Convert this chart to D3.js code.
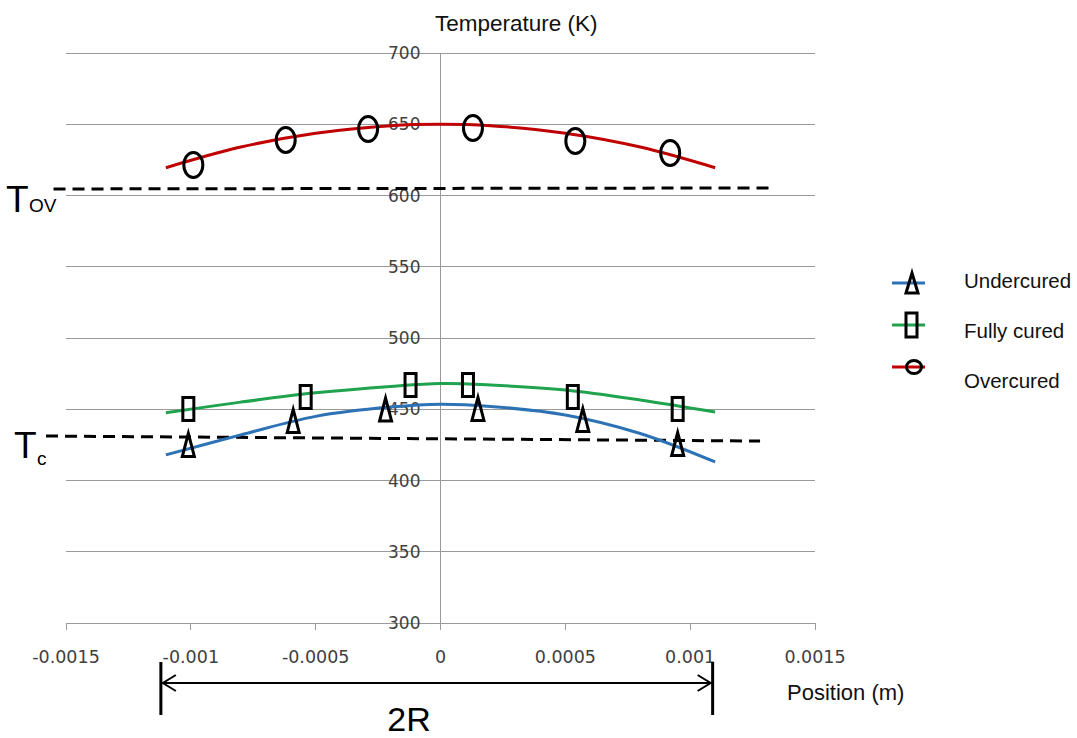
<!DOCTYPE html>
<html><head><meta charset="utf-8">
<script src="https://cdn.jsdelivr.net/npm/d3@7"></script>
<style>body{margin:0;background:#fff}svg{display:block}</style>
</head><body><svg id="c" width="1077" height="738"></svg>
<script>
// ---- data ----
const xTicks = [-0.0015, -0.001, -0.0005, 0, 0.0005, 0.001, 0.0015];
const xTickLabels = ["-0.0015", "-0.001", "-0.0005", "0", "0.0005", "0.001", "0.0015"];
const yTicks = [300, 350, 400, 450, 500, 550, 600, 650, 700];
const seriesNames = ["Undercured", "Fully cured", "Overcured"];
const curveX = [-0.0011, -0.0008, -0.0005, -0.0002, 0, 0.0002, 0.0005, 0.0008, 0.0011];
const underCurve = [418, 432, 445, 451.5, 453.5, 452, 446, 433, 413];
const fullCurve = [447.5, 455, 461.5, 466, 468, 467, 463.5, 456.5, 448];
const overCurve = [619.5, 634, 643.7, 649, 650, 649, 643.7, 634, 619.5];
const underX = [-0.00101, -0.00059, -0.00022, 0.00015, 0.00057, 0.00095];
const underY = [425, 441.8, 449.8, 450.2, 442.5, 425.6];
const fullX = [-0.00101, -0.00054, -0.00012, 0.00011, 0.00053, 0.00095];
const fullY = [450.2, 458.6, 467, 467, 458.6, 450.2];
const overX = [-0.00099, -0.00062, -0.00029, 0.00013, 0.00054, 0.00092];
const overY = [621.4, 639, 646.7, 647.4, 638.2, 629.8];
const tovLineX = [-0.00155, 0.00132];
const tovLineY = [604.6, 605.3];
const tcLineX = [-0.00158, 0.00128];
const tcLineY = [431.2, 427.7];
const diameterSpan = [-0.00112, 0.00109];

// ---- setup ----
const svg = d3.select("#c");
svg.append("rect").attr("width", 1077).attr("height", 738).attr("fill", "#fff");
const x = d3.scaleLinear().domain([-0.0015, 0.0015]).range([66, 815]);
const y = d3.scaleLinear().domain([300, 700]).range([623, 53]);
const colors = ["#2c72b5", "#1fa34f", "#c00000"];
const gridColor = "#9a9a9a";
const sans = "'Liberation Sans', Arial, sans-serif";
const tickFont = "'DejaVu Sans', Verdana, sans-serif";

// grid lines
svg.append("g").selectAll("line").data(yTicks).join("line")
  .attr("x1", x(-0.0015)).attr("x2", x(0.0015))
  .attr("y1", d => y(d)).attr("y2", d => y(d))
  .attr("stroke", gridColor).attr("stroke-width", 1).attr("shape-rendering", "crispEdges");

// y axis (vertical line at x=0) and x ticks
svg.append("line").attr("x1", x(0)).attr("x2", x(0)).attr("y1", y(700)).attr("y2", y(300) + 7)
  .attr("stroke", gridColor).attr("stroke-width", 1).attr("shape-rendering", "crispEdges");
svg.append("g").selectAll("line").data(xTicks).join("line")
  .attr("x1", d => x(d)).attr("x2", d => x(d)).attr("y1", y(300)).attr("y2", y(300) + 7)
  .attr("stroke", gridColor).attr("stroke-width", 1).attr("shape-rendering", "crispEdges");

// tick labels
svg.append("g").selectAll("text").data(yTicks).join("text")
  .attr("x", x(0) - 20).attr("y", d => y(d)).attr("dy", "0.36em")
  .attr("text-anchor", "end").attr("font-family", tickFont).attr("font-size", 17)
  .attr("fill", "#404040").text(d => d);
svg.append("g").selectAll("text").data(xTicks).join("text")
  .attr("x", d => x(d)).attr("y", 663)
  .attr("text-anchor", "middle").attr("font-family", tickFont).attr("font-size", 17.5)
  .attr("fill", "#404040").text((d, i) => xTickLabels[i]);

// axis titles
svg.append("text").attr("x", 435).attr("y", 31).attr("font-family", sans).attr("font-size", 22.5)
  .attr("fill", "#111").text("Temperature (K)");
svg.append("text").attr("x", 787).attr("y", 700).attr("font-family", sans).attr("font-size", 22)
  .attr("fill", "#111").text("Position (m)");

// threshold dashed lines
function dashed(xs, ys) {
  svg.append("line").attr("x1", x(xs[0])).attr("x2", x(xs[1]))
    .attr("y1", y(ys[0])).attr("y2", y(ys[1]))
    .attr("stroke", "#000").attr("stroke-width", 3).attr("stroke-dasharray", "12,7");
}
dashed(tovLineX, tovLineY);
dashed(tcLineX, tcLineY);

// curves
const line = d3.line().x(d => x(d[0])).y(d => y(d[1])).curve(d3.curveCatmullRom.alpha(0.5));
[underCurve, fullCurve, overCurve].forEach((vals, i) => {
  svg.append("path").datum(curveX.map((cx, j) => [cx, vals[j]]))
    .attr("d", line).attr("fill", "none").attr("stroke", colors[i]).attr("stroke-width", 3);
});

// markers
function triPath(cx, cy, w, h) {
  return `M${cx},${cy - h / 2}L${cx + w / 2},${cy + h / 2}L${cx - w / 2},${cy + h / 2}Z`;
}
const mk = svg.append("g").attr("fill", "none").attr("stroke", "#000").attr("stroke-width", 3);
mk.selectAll("path.tri").data(underX.map((v, i) => [v, underY[i]])).join("path").attr("class", "tri")
  .attr("d", d => triPath(x(d[0]), y(d[1]), 12, 23)).attr("stroke-linejoin", "miter");
mk.selectAll("rect.sq").data(fullX.map((v, i) => [v, fullY[i]])).join("rect").attr("class", "sq")
  .attr("x", d => x(d[0]) - 5.5).attr("y", d => y(d[1]) - 11.5).attr("width", 11).attr("height", 23);
mk.selectAll("ellipse").data(overX.map((v, i) => [v, overY[i]])).join("ellipse")
  .attr("cx", d => x(d[0])).attr("cy", d => y(d[1])).attr("rx", 9.5).attr("ry", 12.5);

// T labels
function tLabel(tx, ty, sub, sx, sy) {
  svg.append("text").attr("x", tx).attr("y", ty).attr("font-family", sans).attr("font-size", 37)
    .attr("fill", "#000").text("T");
  svg.append("text").attr("x", sx).attr("y", sy).attr("font-family", sans).attr("font-size", 19)
    .attr("fill", "#000").text(sub);
}
tLabel(6, 212, "OV", 29, 212);
tLabel(14, 458, "c", 37, 465);

// 2R arrow
const ay = 683;
const ax0 = x(diameterSpan[0]), ax1 = x(diameterSpan[1]);
svg.append("line").attr("x1", ax0).attr("x2", ax1).attr("y1", ay).attr("y2", ay)
  .attr("stroke", "#000").attr("stroke-width", 2);
[ax0, ax1].forEach(px => {
  svg.append("line").attr("x1", px).attr("x2", px).attr("y1", 662).attr("y2", 715)
    .attr("stroke", "#000").attr("stroke-width", 3);
});
svg.append("path").attr("d", `M${ax0 + 15},${ay - 8}L${ax0 + 2},${ay}L${ax0 + 15},${ay + 8}`)
  .attr("fill", "none").attr("stroke", "#000").attr("stroke-width", 2);
svg.append("path").attr("d", `M${ax1 - 15},${ay - 8}L${ax1 - 2},${ay}L${ax1 - 15},${ay + 8}`)
  .attr("fill", "none").attr("stroke", "#000").attr("stroke-width", 2);
svg.append("text").attr("x", 409).attr("y", 731).attr("text-anchor", "middle")
  .attr("font-family", sans).attr("font-size", 34).attr("fill", "#000").text("2R");

// legend
const legY = [283, 325, 367];
const legTextY = [288, 338, 388];
const lg = svg.append("g");
seriesNames.forEach((name, i) => {
  lg.append("line").attr("x1", 892).attr("x2", 925).attr("y1", legY[i]).attr("y2", legY[i])
    .attr("stroke", colors[i]).attr("stroke-width", 3);
  lg.append("text").attr("x", 964).attr("y", legTextY[i]).attr("font-family", sans)
    .attr("font-size", 20.5).attr("fill", "#111").text(name);
});
lg.append("path").attr("d", triPath(912, legY[0], 12, 20)).attr("fill", "none").attr("stroke", "#000").attr("stroke-width", 3);
lg.append("rect").attr("x", 906).attr("y", legY[1] - 12).attr("width", 11).attr("height", 24)
  .attr("fill", "none").attr("stroke", "#000").attr("stroke-width", 3);
lg.append("ellipse").attr("cx", 914).attr("cy", legY[2]).attr("rx", 7.5).attr("ry", 6.5)
  .attr("fill", "none").attr("stroke", "#000").attr("stroke-width", 3);
</script></body></html>
